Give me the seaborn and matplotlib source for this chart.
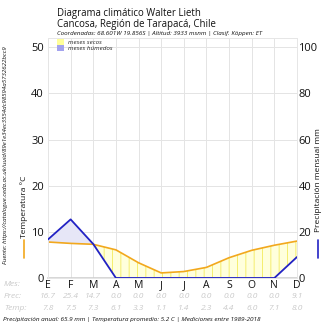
import matplotlib
matplotlib.use("Agg")
import matplotlib.pyplot as plt
from matplotlib.patches import Patch
from matplotlib.transforms import blended_transform_factory
import numpy as np
import pandas as pd
import seaborn as sns

# Monthly climate normals for Cancosa (1989-2018)
months = ["E", "F", "M", "A", "M", "J", "J", "A", "S", "O", "N", "D"]
precip_mm = [16.7, 25.4, 14.7, 0.0, 0.0, 0.0, 0.0, 0.0, 0.0, 0.0, 0.0, 9.1]
temp_c = [7.8, 7.5, 7.3, 6.1, 3.3, 1.1, 1.4, 2.3, 4.4, 6.0, 7.1, 8.0]

title = "Diagrama climático Walter Lieth\nCancosa, Región de Tarapacá, Chile"
subtitle = "Coordenadas: 68.601W 19.856S | Altitud: 3933 msnm | Clasif. Köppen: ET"
footer = ("Precipitación anual: 65.9 mm | Temperatura promedio: 5.2 C | "
          "Mediciones entre 1989-2018")
source = "Fuente: https://catalogue.ceda.ac.uk/uuid/89e1e34ec3554dc98594a5732622bcc9"

sns.set_theme(style="white")
plt.rcParams["font.family"] = ["Open Sans", "DejaVu Sans"]
plt.rcParams["hatch.linewidth"] = 0.7

TEMP_COLOR = "#f2a81d"
PREC_COLOR = "#2222c4"
GRID_COLOR = "#e4e4e4"
FAINT = "#c9c9c9"

df = pd.DataFrame({"idx": np.arange(len(months)), "mes": months,
                   "prec": precip_mm, "temp": temp_c})
# Walter-Lieth convention: 1 °C ~ 2 mm
df["prec_scaled"] = df["prec"] / 2.0

fig = plt.figure(figsize=(3.3, 3.3), dpi=100)
ax = fig.add_axes([48 / 330, 52 / 330, 249 / 330, 240 / 330])
ax2 = ax.twinx()

# dry months: temperature above scaled precipitation
ax.fill_between(df["idx"], df["prec_scaled"], df["temp"],
                where=df["temp"] >= df["prec_scaled"], interpolate=True,
                facecolor="#ffffdc", edgecolor="#f5ee6e", hatch="||",
                linewidth=0, zorder=1)
# humid months: scaled precipitation above temperature
ax.fill_between(df["idx"], df["temp"], df["prec_scaled"],
                where=df["prec_scaled"] >= df["temp"], interpolate=True,
                facecolor="#e6e6f7", linewidth=0, zorder=1)

sns.lineplot(data=df, x="idx", y="temp", ax=ax, color=TEMP_COLOR,
             linewidth=1.2, zorder=3)
sns.lineplot(data=df, x="idx", y="prec", ax=ax2, color=PREC_COLOR,
             linewidth=1.3, zorder=3)

ax.set_xlim(0, 11)
ax.set_ylim(0, 52)
ax2.set_ylim(0, 104)
ax.set_yticks(range(0, 51, 10))
ax2.set_yticks(range(0, 101, 20))
ax.set_xticks(df["idx"])
ax.set_xticklabels(months, fontsize=7.5, color="#111111")
ax.tick_params(axis="x", length=0, pad=1.5)
ax.tick_params(axis="y", length=0, pad=3, labelsize=8, labelcolor="#111111")
ax2.tick_params(axis="y", length=0, pad=1, labelsize=8, labelcolor="#111111")
ax.set_xlabel("")
ax.set_ylabel("")
ax2.set_ylabel("")
ax.grid(True, color=GRID_COLOR, linewidth=0.7)
ax.set_axisbelow(True)
for a in (ax, ax2):
    for sp in a.spines.values():
        sp.set_color("#e6e6e6")
        sp.set_linewidth(0.7)
ax.spines["bottom"].set_color("#cfcfcf")
ax.spines["bottom"].set_linewidth(1.2)
ax2.set_zorder(ax.get_zorder() + 1)
ax2.patch.set_visible(False)

# legend for the filled areas
ax.legend(handles=[Patch(facecolor="#ffff99", edgecolor="none", label="meses secos"),
                   Patch(facecolor="#a3a3ee", edgecolor="none", label="meses húmedos")],
          loc="upper left", bbox_to_anchor=(0.02, 1.01), frameon=False,
          handlelength=1.2, handleheight=0.9, handletextpad=0.6,
          labelspacing=0.05, borderaxespad=0.2,
          prop={"size": 4.5, "style": "italic"})

# titles
fig.text(57 / 330, 1 - 8 / 330, title, ha="left", va="top", fontsize=6.9,
         color="#111111", linespacing=1.05)
fig.text(57 / 330, 1 - 33 / 330, subtitle, ha="left", va="center", fontsize=4.5,
         style="italic", color="#111111")

# axis captions with line-style markers
fig.text(24 / 330, 1 - 207 / 330, "Temperatura °C", rotation=90, ha="center",
         va="center", fontsize=6, color="#111111")
fig.add_artist(plt.Line2D([24 / 330, 24 / 330], [1 - 240 / 330, 1 - 258 / 330],
                          color=TEMP_COLOR, linewidth=1.2))
fig.text(318 / 330, 1 - 180 / 330, "Precipitación mensual mm", rotation=90,
         ha="center", va="center", fontsize=6, color="#111111")
fig.add_artist(plt.Line2D([318 / 330, 318 / 330], [1 - 240 / 330, 1 - 258 / 330],
                          color=PREC_COLOR, linewidth=1.2))
fig.text(6 / 330, 1 - 155 / 330, source, rotation=90, ha="center", va="center",
         fontsize=4.4, style="italic", color="#111111")

# data table under the months
table_trans = blended_transform_factory(ax.transData, fig.transFigure)
rows = [("Mes:", 285, None), ("Prec:", 297, precip_mm), ("Temp:", 308, temp_c)]
for label, ypix, vals in rows:
    fig.text(4 / 330, 1 - ypix / 330, label, ha="left", va="center",
             fontsize=6, style="italic", color=FAINT)
    if vals is not None:
        for i, v in enumerate(vals):
            ax.text(i, 1 - ypix / 330, f"{v:.1f}", transform=table_trans,
                    ha="center", va="center", fontsize=6, style="italic",
                    color=FAINT, clip_on=False)

fig.text(3 / 330, 1 - 320 / 330, footer, ha="left", va="center", fontsize=4.6,
         style="italic", color="#111111")

fig.savefig("out.png", dpi=100)
